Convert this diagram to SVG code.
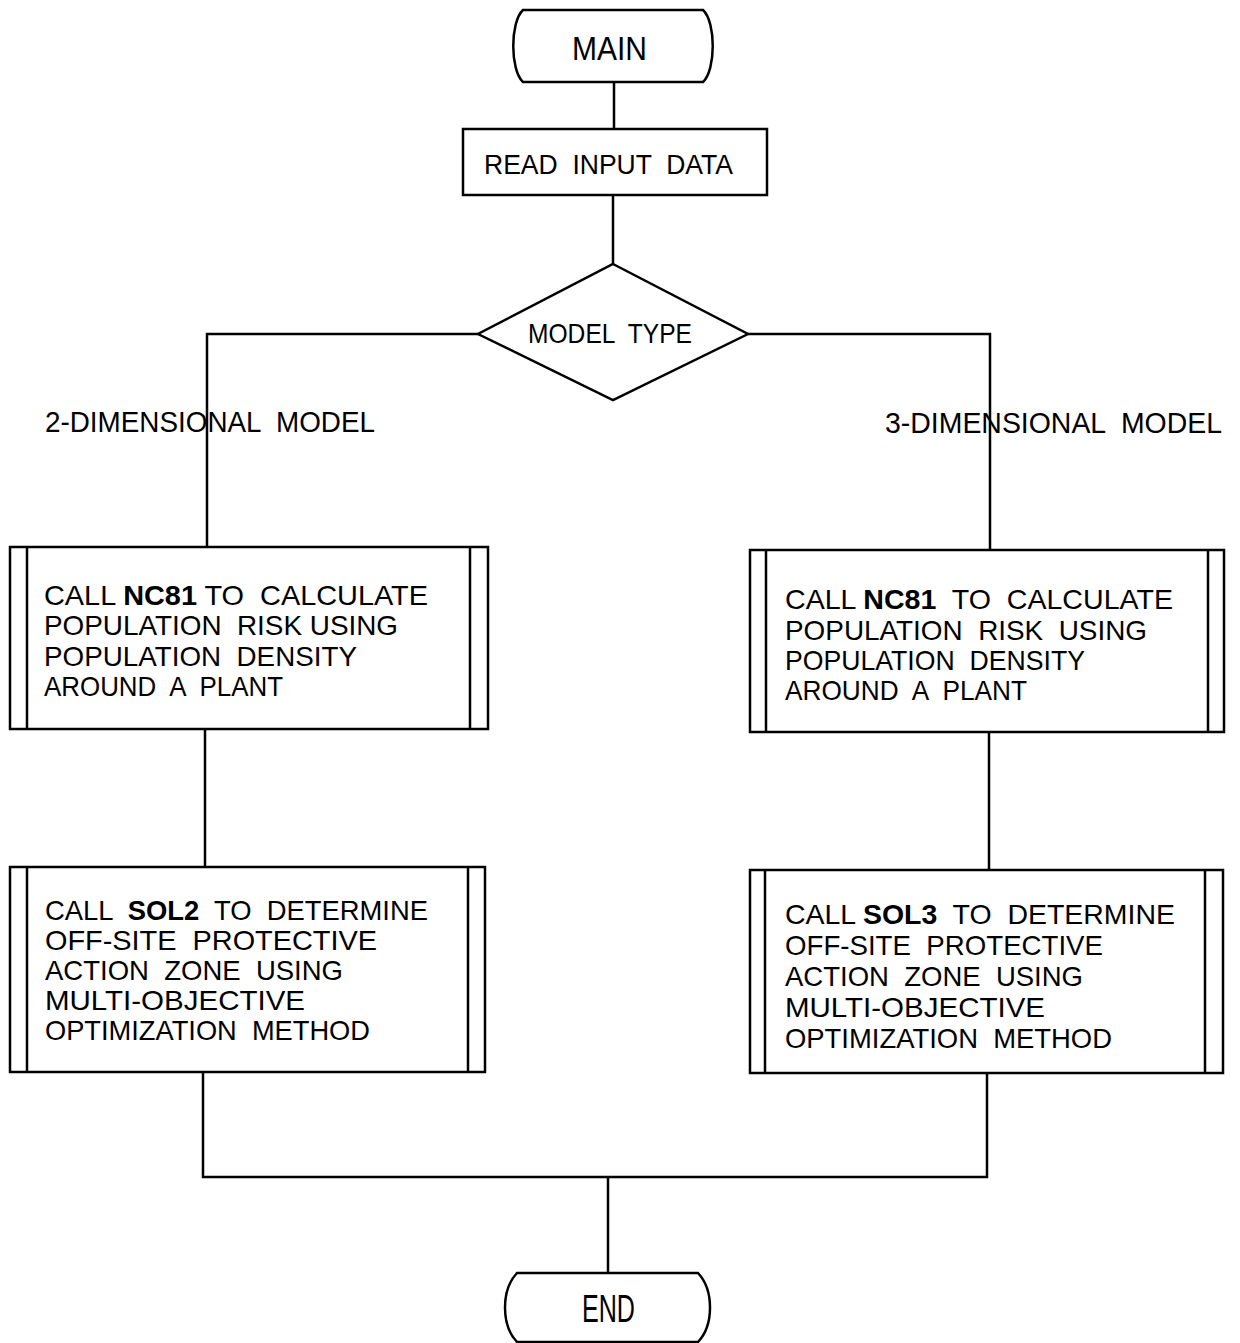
<svg xmlns="http://www.w3.org/2000/svg" width="1240" height="1343" viewBox="0 0 1240 1343">
<style>
.s{fill:none;stroke:#000;stroke-width:2.5;stroke-linejoin:miter}
.t{font-family:"Liberation Sans",Arial,sans-serif;font-size:28px;fill:#000;white-space:pre}
.b{font-weight:bold}
.m{font-size:34px}
.l{font-size:29.5px}
.e{font-size:38px}
</style>
<rect width="1240" height="1343" fill="#fff"/>
<g id="connectors" class="s">
<path d="M614,82 V129"/>
<path d="M613,195 V264"/>
<path d="M478,334 H207 V547"/>
<path d="M748,334 H990 V550"/>
<path d="M205,729 V867"/>
<path d="M989,732 V870"/>
<path d="M203,1072 V1177 H987 V1073"/>
<path d="M608,1177 V1273"/>
</g>
<g id="main">
<path class="s" d="M523,10 H703 C716,22 716,70 703,82 H523 C510,70 510,22 523,10 Z"/>
<text class="t m" x="572" y="60" textLength="75" lengthAdjust="spacingAndGlyphs">MAIN</text>
</g>
<g id="read">
<rect class="s" x="463" y="129" width="304" height="66"/>
<text class="t" x="484" y="174" textLength="249" lengthAdjust="spacingAndGlyphs">READ  INPUT  DATA</text>
</g>
<g id="model-type">
<polygon class="s" points="613,264 748,334 613,400 478,334"/>
<text class="t" x="528" y="343" textLength="164" lengthAdjust="spacingAndGlyphs">MODEL  TYPE</text>
</g>
<g id="label-2d">
<text class="t l" x="45" y="432" textLength="330" lengthAdjust="spacingAndGlyphs">2-DIMENSIONAL  MODEL</text>
</g>
<g id="label-3d">
<text class="t l" x="885" y="433" textLength="337" lengthAdjust="spacingAndGlyphs">3-DIMENSIONAL  MODEL</text>
</g>
<g id="nc81-2d">
<rect class="s" x="10" y="547" width="478" height="182"/>
<path class="s" d="M27,547 V729 M470,547 V729"/>
<text class="t" x="44" y="605" textLength="384" lengthAdjust="spacingAndGlyphs">CALL <tspan class="b">NC81</tspan> TO  CALCULATE</text>
<text class="t" x="44" y="635" textLength="354" lengthAdjust="spacingAndGlyphs">POPULATION  RISK USING</text>
<text class="t" x="44" y="666" textLength="313" lengthAdjust="spacingAndGlyphs">POPULATION  DENSITY</text>
<text class="t" x="44" y="696" textLength="239" lengthAdjust="spacingAndGlyphs">AROUND  A  PLANT</text>
</g>
<g id="nc81-3d">
<rect class="s" x="750" y="550" width="474" height="182"/>
<path class="s" d="M766,550 V732 M1208,550 V732"/>
<text class="t" x="785" y="609" textLength="388" lengthAdjust="spacingAndGlyphs">CALL <tspan class="b">NC81</tspan>  TO  CALCULATE</text>
<text class="t" x="785" y="640" textLength="362" lengthAdjust="spacingAndGlyphs">POPULATION  RISK  USING</text>
<text class="t" x="785" y="670" textLength="300" lengthAdjust="spacingAndGlyphs">POPULATION  DENSITY</text>
<text class="t" x="785" y="700" textLength="242" lengthAdjust="spacingAndGlyphs">AROUND  A  PLANT</text>
</g>
<g id="sol2">
<rect class="s" x="10" y="867" width="475" height="205"/>
<path class="s" d="M27,867 V1072 M468,867 V1072"/>
<text class="t" x="45" y="920" textLength="383" lengthAdjust="spacingAndGlyphs">CALL  <tspan class="b">SOL2</tspan>  TO  DETERMINE</text>
<text class="t" x="45" y="950" textLength="332" lengthAdjust="spacingAndGlyphs">OFF-SITE  PROTECTIVE</text>
<text class="t" x="45" y="980" textLength="298" lengthAdjust="spacingAndGlyphs">ACTION  ZONE  USING</text>
<text class="t" x="45" y="1010" textLength="260" lengthAdjust="spacingAndGlyphs">MULTI-OBJECTIVE</text>
<text class="t" x="45" y="1040" textLength="325" lengthAdjust="spacingAndGlyphs">OPTIMIZATION  METHOD</text>
</g>
<g id="sol3">
<rect class="s" x="750" y="870" width="473" height="203"/>
<path class="s" d="M765,870 V1073 M1205,870 V1073"/>
<text class="t" x="785" y="924" textLength="390" lengthAdjust="spacingAndGlyphs">CALL <tspan class="b">SOL3</tspan>  TO  DETERMINE</text>
<text class="t" x="785" y="955" textLength="318" lengthAdjust="spacingAndGlyphs">OFF-SITE  PROTECTIVE</text>
<text class="t" x="785" y="986" textLength="298" lengthAdjust="spacingAndGlyphs">ACTION  ZONE  USING</text>
<text class="t" x="785" y="1017" textLength="260" lengthAdjust="spacingAndGlyphs">MULTI-OBJECTIVE</text>
<text class="t" x="785" y="1048" textLength="327" lengthAdjust="spacingAndGlyphs">OPTIMIZATION  METHOD</text>
</g>
<g id="end">
<path class="s" d="M517,1273 H698 C714,1290 714,1325 698,1342 H517 C501,1325 501,1290 517,1273 Z"/>
<text class="t e" x="582" y="1322" textLength="53" lengthAdjust="spacingAndGlyphs">END</text>
</g>
</svg>
